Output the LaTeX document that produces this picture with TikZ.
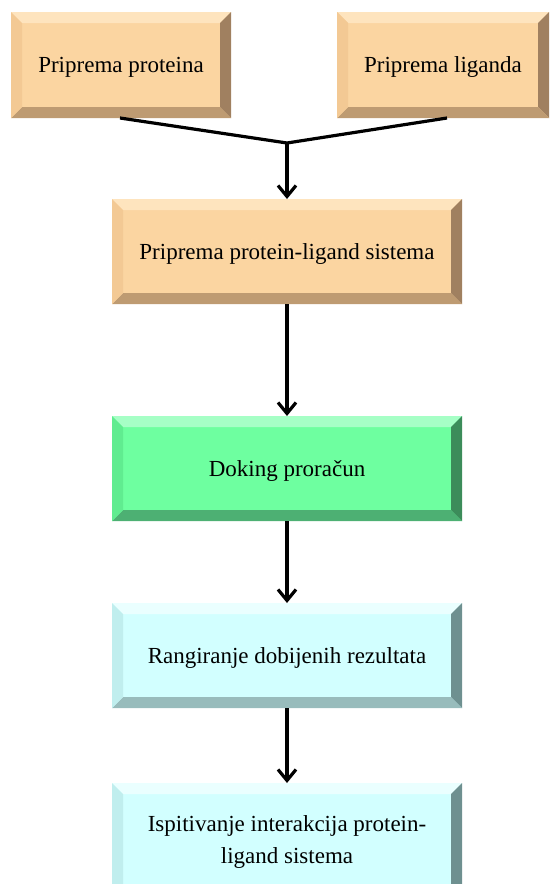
\documentclass[tikz,border=0pt]{standalone}
\usepackage{fontspec}
\setmainfont{Liberation Serif}
\usetikzlibrary{arrows.meta,positioning}

\definecolor{peachface}{HTML}{FBD5A1}
\definecolor{peachtop}{HTML}{FEE4BE}
\definecolor{peachleft}{HTML}{F3C994}
\definecolor{peachright}{HTML}{A08060}
\definecolor{peachbottom}{HTML}{BE9B72}
\definecolor{greenface}{HTML}{6EFFA0}
\definecolor{greentop}{HTML}{A6FFC6}
\definecolor{greenleft}{HTML}{60EC90}
\definecolor{greenright}{HTML}{3C8C5A}
\definecolor{greenbottom}{HTML}{4DB073}
\definecolor{cyanface}{HTML}{D2FFFF}
\definecolor{cyantop}{HTML}{EAFFFF}
\definecolor{cyanleft}{HTML}{C0EEEE}
\definecolor{cyanright}{HTML}{6E9090}
\definecolor{cyanbottom}{HTML}{98BCBC}

\newcommand{\bw}{11pt}

\tikzset{
  bevel/.style n args={5}{
    fill=#1,
    path picture={
      \coordinate (nw) at (path picture bounding box.north west);
      \coordinate (ne) at (path picture bounding box.north east);
      \coordinate (se) at (path picture bounding box.south east);
      \coordinate (sw) at (path picture bounding box.south west);
      \fill[#2] (nw) -- (ne) -- ([shift={(-\bw,-\bw)}]ne) -- ([shift={(\bw,-\bw)}]nw) -- cycle;
      \fill[#4] (ne) -- (se) -- ([shift={(-\bw,\bw)}]se) -- ([shift={(-\bw,-\bw)}]ne) -- cycle;
      \fill[#5] (se) -- (sw) -- ([shift={(\bw,\bw)}]sw) -- ([shift={(-\bw,\bw)}]se) -- cycle;
      \fill[#3] (sw) -- (nw) -- ([shift={(\bw,-\bw)}]nw) -- ([shift={(\bw,\bw)}]sw) -- cycle;
    }
  },
  stagebox/.style={rectangle, inner sep=0pt, outer sep=0pt, align=center,
    minimum width=350pt, minimum height=105pt, text depth=0pt,
    font=\fontsize{23}{32}\selectfont},
  prepbox/.style={stagebox, bevel={peachface}{peachtop}{peachleft}{peachright}{peachbottom}},
  dockbox/.style={stagebox, bevel={greenface}{greentop}{greenleft}{greenright}{greenbottom}},
  resbox/.style={stagebox, bevel={cyanface}{cyantop}{cyanleft}{cyanright}{cyanbottom}},
  flow/.style={line width=3.2pt},
}

\begin{document}
\begin{tikzpicture}[x=1pt, y=-1pt, >={Straight Barb[length=11pt,width=18pt]}]

    \useasboundingbox (0,0) rectangle (550,884);
    \clip (0,0) rectangle (550,884);

    % preparation
    \node[prepbox, minimum width=220pt, minimum height=106pt] (prot) at (121,65) {Priprema proteina};
    \node[prepbox, minimum width=212pt, minimum height=106pt] (lig) at (443,65) {Priprema liganda};
    \node[prepbox] (sys) at (287,251.5) {Priprema protein-ligand sistema};

    % docking and analysis
    \node[dockbox] (dock) at (287,468.5) {Doking proračun};
    \node[resbox] (rank) at (287,655.5) {Rangiranje dobijenih rezultata};
    \node[resbox, minimum height=114pt] (inter) at (287,840) {Ispitivanje interakcija protein-\\ligand sistema};

    \coordinate (join) at (287,143);
    \draw[flow] ([xshift=-1pt]prot.south) -- (join) -- ([xshift=4pt]lig.south);
    \draw[flow, ->] (join) -- (sys.north);
    \draw[flow, ->] (sys) -- (dock);
    \draw[flow, ->] (dock) -- (rank);
    \draw[flow, ->] (rank) -- (inter);

\end{tikzpicture}
\end{document}
